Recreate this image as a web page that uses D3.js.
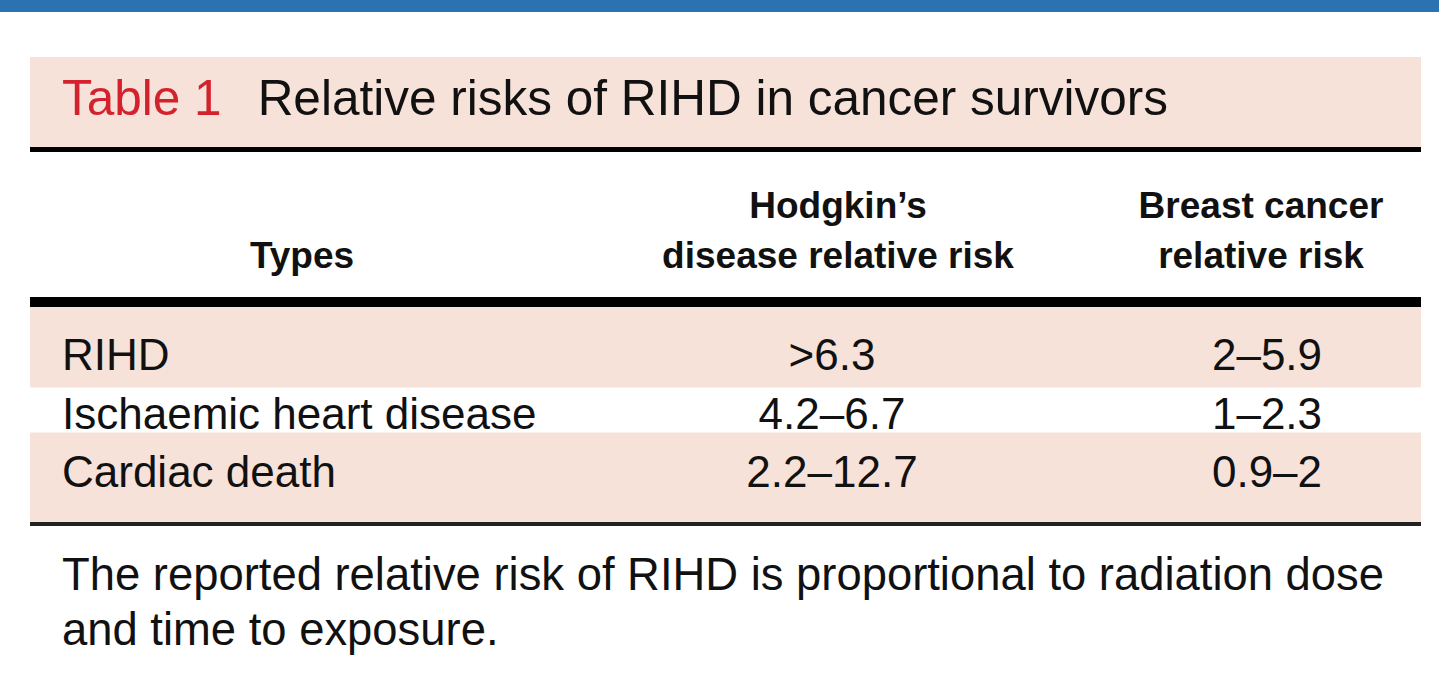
<!DOCTYPE html>
<html>
<head>
<meta charset="utf-8">
<script src="https://cdn.jsdelivr.net/npm/d3@7"></script>
<style>
  body { margin: 0; background: #fff; }
  svg text { font-family: "Liberation Sans", Arial, Helvetica, sans-serif; fill: #111; }
</style>
</head>
<body>
<div id="table"></div>
<script>
// Data
const tableLabel = 'Table 1';
const tableTitle = 'Relative risks of RIHD in cancer survivors';
const columnHeaders = [
    ['Types'],
    ['Hodgkin\u2019s', 'disease relative risk'],
    ['Breast cancer', 'relative risk']
];
const types = ['RIHD', 'Ischaemic heart disease', 'Cardiac death'];
const hodgkinRisk = ['>6.3', '4.2\u20136.7', '2.2\u201312.7'];
const breastRisk = ['2\u20135.9', '1\u20132.3', '0.9\u20132'];
const footnote = [
    'The reported relative risk of RIHD is proportional to radiation dose',
    'and time to exposure.'
];

const W = 1439, H = 694;
const left = 30, right = 1421;
const pink = '#f7e2d9';

const svg = d3.select('#table')
    .append('svg')
    .attr('width', W)
    .attr('height', H);

// Top blue strip
svg.append('rect')
    .attr('x', 0).attr('y', 0)
    .attr('width', W).attr('height', 12)
    .attr('fill', '#2a73b0');

// Title band
svg.append('rect')
    .attr('x', left).attr('y', 57)
    .attr('width', right - left).attr('height', 90)
    .attr('fill', pink);

const title = svg.append('text')
    .attr('x', 62)
    .attr('y', 115)
    .style('font-size', '49.5px');
title.append('tspan').style('fill', '#d3222e').text(tableLabel);
title.append('tspan').attr('dx', 36).text(tableTitle);

svg.append('rect')
    .attr('x', left).attr('y', 147)
    .attr('width', right - left).attr('height', 5)
    .attr('fill', '#000');

// Column header positions
const colX = d3.scaleOrdinal()
    .domain([0, 1, 2])
    .range([302, 838, 1261]);

const headerLines = svg.append('g').selectAll('text')
    .data(columnHeaders)
    .join('text')
    .attr('text-anchor', 'middle')
    .attr('x', (d, i) => colX(i))
    .attr('y', d => d.length === 1 ? 268 : 218)
    .style('font-size', '37px')
    .style('font-weight', 'bold');

headerLines.selectAll('tspan')
    .data(d => d)
    .join('tspan')
    .attr('x', function() { return d3.select(this.parentNode).attr('x'); })
    .attr('dy', (d, i) => i === 0 ? 0 : 50)
    .text(d => d);

svg.append('rect')
    .attr('x', left).attr('y', 297)
    .attr('width', right - left).attr('height', 10)
    .attr('fill', '#000');

// Body rows
const rowY = d3.scalePoint()
    .domain(d3.range(types.length))
    .range([370, 487]);

svg.append('rect')
    .attr('x', left).attr('y', 307)
    .attr('width', right - left).attr('height', 216)
    .attr('fill', pink);

// every second row unshaded
svg.append('g').selectAll('rect')
    .data(d3.range(types.length).filter(i => i % 2 === 1))
    .join('rect')
    .attr('x', left)
    .attr('y', i => rowY(i) - 41)
    .attr('width', right - left)
    .attr('height', 45)
    .attr('fill', '#fff');

const bodyFont = '44px';

svg.append('g').selectAll('text')
    .data(types)
    .join('text')
    .attr('x', 62)
    .attr('y', (d, i) => rowY(i))
    .style('font-size', bodyFont)
    .text(d => d);

svg.append('g').selectAll('text')
    .data(hodgkinRisk)
    .join('text')
    .attr('text-anchor', 'middle')
    .attr('x', 832)
    .attr('y', (d, i) => rowY(i))
    .style('font-size', bodyFont)
    .text(d => d);

svg.append('g').selectAll('text')
    .data(breastRisk)
    .join('text')
    .attr('text-anchor', 'middle')
    .attr('x', 1267)
    .attr('y', (d, i) => rowY(i))
    .style('font-size', bodyFont)
    .text(d => d);

svg.append('rect')
    .attr('x', left).attr('y', 522)
    .attr('width', right - left).attr('height', 4)
    .attr('fill', '#222');

// Footnote
svg.append('g').selectAll('text')
    .data(footnote)
    .join('text')
    .attr('x', 62)
    .attr('y', (d, i) => 590 + i * 55)
    .style('font-size', '45.4px')
    .text(d => d);
</script>
</body>
</html>
